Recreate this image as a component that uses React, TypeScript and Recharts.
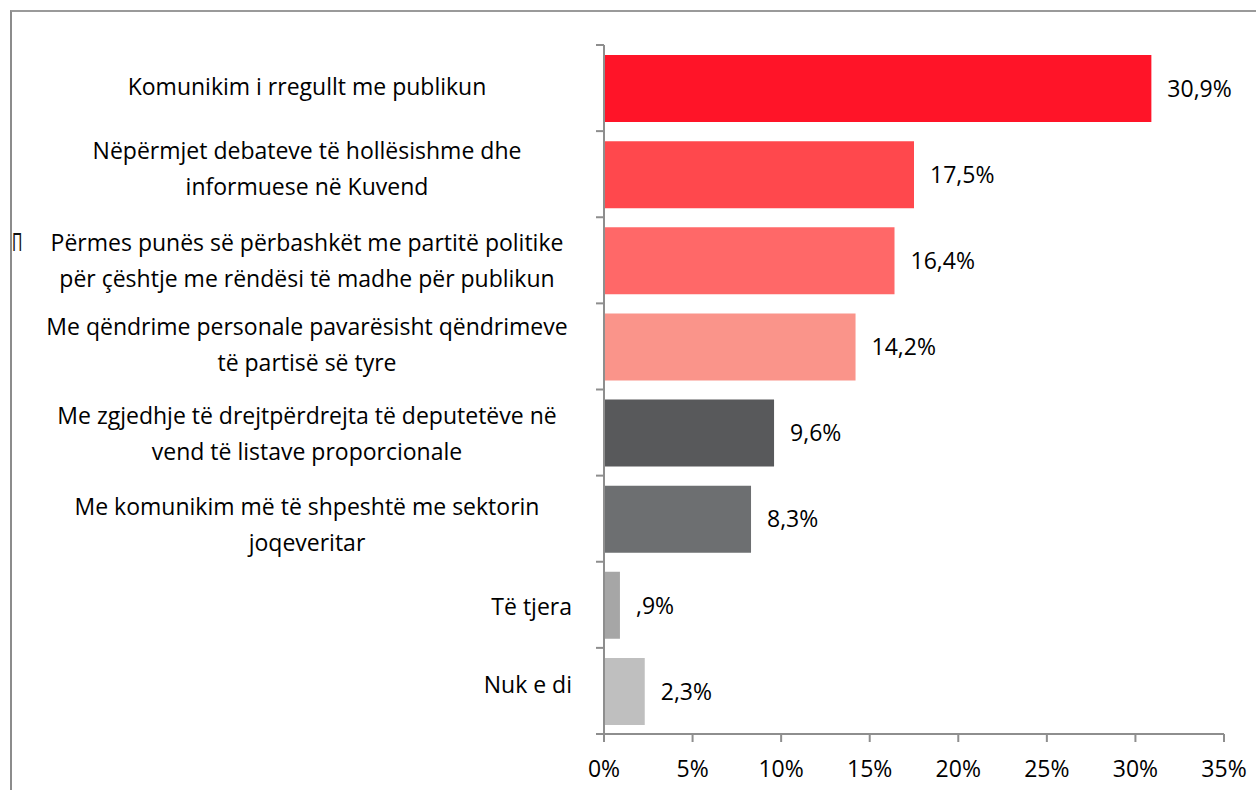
import React from "react";
import { BarChart, Bar, XAxis, YAxis, Cell, LabelList } from "recharts";

const categories = [
  "Komunikim i rregullt me publikun",
  "Nëpërmjet debateve të hollësishme dhe informuese në Kuvend",
  "Përmes punës së përbashkët me partitë politike për çështje me rëndësi të madhe për publikun",
  "Me qëndrime personale pavarësisht qëndrimeve të partisë së tyre",
  "Me zgjedhje të drejtpërdrejta të deputetëve në vend të listave proporcionale",
  "Me komunikim më të shpeshtë me sektorin joqeveritar",
  "Të tjera",
  "Nuk e di",
];

const labelLines = [
  ["Komunikim i rregullt me publikun"],
  ["Nëpërmjet debateve të hollësishme dhe", "informuese në Kuvend"],
  ["Përmes punës së përbashkët me partitë politike", "për çështje me rëndësi të madhe për publikun"],
  ["Me qëndrime personale pavarësisht qëndrimeve", "të partisë së tyre"],
  ["Me zgjedhje të drejtpërdrejta të deputetëve në", "vend të listave proporcionale"],
  ["Me komunikim më të shpeshtë me sektorin", "joqeveritar"],
  ["Të tjera"],
  ["Nuk e di"],
];

const values = [30.9, 17.5, 16.4, 14.2, 9.6, 8.3, 0.9, 2.3];

const colors = ["#FF1428", "#FF484D", "#FF6868", "#FA948A", "#58595B", "#6D6F71", "#A6A6A6", "#BFBFBF"];

const xTicks = [0, 5, 10, 15, 20, 25, 30, 35];

const data = categories.map((name, i) => ({ name, value: values[i] }));

// layout
const W = 1256;
const H = 790;
const MARGIN = { top: 45, right: 32, left: 14, bottom: 16 };
const YAXIS_W = 590;
const XAXIS_H = 40;
const PLOT_LEFT = MARGIN.left + YAXIS_W;
const PLOT_TOP = MARGIN.top;
const PLOT_BOTTOM = H - MARGIN.bottom - XAXIS_H;
const BAND = (PLOT_BOTTOM - PLOT_TOP) / categories.length;
const FONT = "'Open Sans', sans-serif";
const FS = 23;
const AXIS_COLOR = "#8E8E8E";
const LABEL_CENTER_X = 307;
const SHORT_LABEL_RIGHT_X = 572;
const LINE_GAP = 36;
// small vertical nudges of the category labels (layout only)
const LABEL_NUDGE = [-1, -5.5, 0, -2, 1, 6, 2, -6];

const fmt = (v: number) => {
  const s = v.toFixed(1).replace(".", ",");
  return (v < 1 ? s.replace(/^0/, "") : s) + "%";
};

const YTick = (props: any) => {
  const { y, payload } = props;
  const idx = categories.indexOf(payload.value);
  const lines = labelLines[idx] || [String(payload.value)];
  const short = lines.length === 1 && lines[0].length < 12;
  const n = lines.length;
  const cy = y + (LABEL_NUDGE[idx] || 0);
  return (
    <g>
      <line x1={PLOT_LEFT - 8} x2={PLOT_LEFT} y1={y - BAND / 2} y2={y - BAND / 2} stroke={AXIS_COLOR} strokeWidth={2} />
      {idx === categories.length - 1 && (
        <line x1={PLOT_LEFT - 8} x2={PLOT_LEFT} y1={y + BAND / 2} y2={y + BAND / 2} stroke={AXIS_COLOR} strokeWidth={2} />
      )}
      {idx === 2 && (
        <text
          x={0}
          y={0}
          transform={`translate(12, ${cy - LINE_GAP / 2 + 9}) scale(0.55, 1)`}
          fontFamily="'DejaVu Sans', sans-serif"
          fontSize={25}
          fill="#111"
        >
          П
        </text>
      )}
      {lines.map((line, i) => (
        <text
          key={i}
          x={short ? SHORT_LABEL_RIGHT_X : LABEL_CENTER_X}
          y={cy + (i - (n - 1) / 2) * LINE_GAP + 0.36 * FS}
          textAnchor={short ? "end" : "middle"}
          fontFamily={FONT}
          fontSize={FS}
          fill="#000"
        >
          {line}
        </text>
      ))}
    </g>
  );
};

const XTick = (props: any) => {
  const { x, payload } = props;
  return (
    <text x={x} y={PLOT_BOTTOM + 43} textAnchor="middle" fontFamily={FONT} fontSize={FS} fill="#000">
      {payload.value}%
    </text>
  );
};

const ValueLabel = (props: any) => {
  const { x, y, width, height, value } = props;
  return (
    <text
      x={x + width + 16}
      y={y + height / 2 + 0.36 * FS}
      textAnchor="start"
      fontFamily={FONT}
      fontSize={FS}
      fill="#000"
    >
      {fmt(Number(value))}
    </text>
  );
};

export default function App() {
  return (
    <div style={{ position: "absolute", left: 0, top: 0, width: W, height: H, overflow: "hidden", background: "#fff" }}>
      <div
        style={{
          position: "absolute",
          left: 10,
          top: 10,
          width: W + 100,
          height: H + 100,
          borderLeft: "2px solid #8C8C8C",
          borderTop: "2px solid #9A9A9A",
          boxSizing: "border-box",
        }}
      />
      <div style={{ position: "absolute", left: 0, top: 0 }}>
        <BarChart width={W} height={H} data={data} layout="vertical" margin={MARGIN} barSize={67}>
          <XAxis
            type="number"
            domain={[0, 35]}
            ticks={xTicks}
            interval={0}
            height={XAXIS_H}
            tick={<XTick />}
            tickSize={8}
            tickLine={{ stroke: AXIS_COLOR, strokeWidth: 2 }}
            axisLine={{ stroke: AXIS_COLOR, strokeWidth: 2 }}
          />
          <YAxis
            type="category"
            dataKey="name"
            width={YAXIS_W}
            interval={0}
            tick={<YTick />}
            tickLine={false}
            axisLine={{ stroke: AXIS_COLOR, strokeWidth: 2 }}
          />
          <Bar dataKey="value" isAnimationActive={false}>
            {data.map((d, i) => (
              <Cell key={d.name} fill={colors[i]} />
            ))}
            <LabelList dataKey="value" content={<ValueLabel />} />
          </Bar>
        </BarChart>
      </div>
    </div>
  );
}
